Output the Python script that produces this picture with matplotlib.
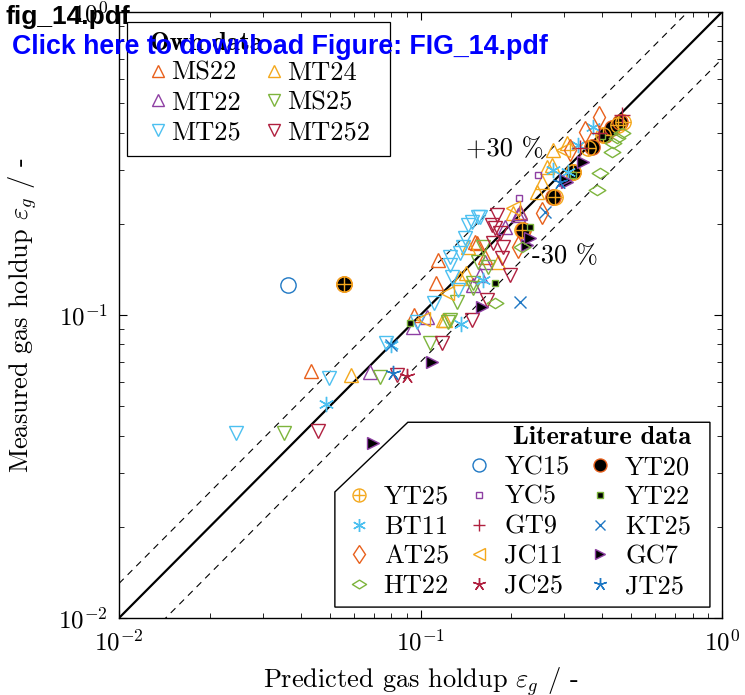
import matplotlib
matplotlib.use('Agg')
import matplotlib.pyplot as plt
from matplotlib.lines import Line2D
from matplotlib.path import Path
from matplotlib.patches import Polygon, Rectangle
from matplotlib.legend_handler import HandlerTuple

plt.rcParams['font.family'] = 'serif'
plt.rcParams['font.serif'] = ['cmr10']
plt.rcParams['mathtext.fontset'] = 'cm'
plt.rcParams['axes.unicode_minus'] = False
plt.rcParams['axes.formatter.use_mathtext'] = True

# ---------------- data (predicted, measured) ----------------
ms22_x = [0.0434, 0.0952, 0.1127, 0.1143, 0.1517, 0.1540, 0.1637, 0.2139]
ms22_y = [0.0653, 0.1000, 0.1274, 0.1520, 0.1739, 0.1725, 0.1556, 0.2191]

mt24_x = [0.0589, 0.1187, 0.1206, 0.1417, 0.1352, 0.1807, 0.2027, 0.2433, 0.2530, 0.2628, 0.2752, 0.2731, 0.3062, 0.1437]
mt24_y = [0.0633, 0.0963, 0.0963, 0.1378, 0.1325, 0.1497, 0.2174, 0.2545, 0.2748, 0.3082, 0.3505, 0.3130, 0.3698, 0.1673]

mt22_x = [0.0680, 0.1051, 0.0944, 0.1494, 0.1637, 0.1907, 0.2106, 0.2139, 0.1575]
mt22_y = [0.0648, 0.0985, 0.0913, 0.1256, 0.1497, 0.1955, 0.2141, 0.2174, 0.1357]

ms25_x = [0.0352, 0.0734, 0.1235, 0.1075, 0.1252, 0.1321, 0.1494, 0.1613, 0.1676, 0.1552, 0.1494]
ms25_y = [0.0408, 0.0624, 0.0948, 0.0808, 0.0963, 0.1104, 0.1228, 0.1673, 0.1440, 0.1497, 0.1274]

mt25_x = [0.0244, 0.0497, 0.0768, 0.0974, 0.1109, 0.1252, 0.1252, 0.1272, 0.1331, 0.1352, 0.1406, 0.1384, 0.1437, 0.1575, 0.1482, 0.1552]
mt25_y = [0.0408, 0.0619, 0.0808, 0.0948, 0.1096, 0.1556, 0.1463, 0.1336, 0.1209, 0.1597, 0.1795, 0.1673, 0.1985, 0.2109, 0.2031, 0.2109]

mt252_x = [0.0457, 0.0836, 0.1178, 0.1482, 0.1663, 0.1793, 0.1726, 0.1835, 0.1878, 0.1739, 0.1863, 0.1981, 0.1766]
mt252_y = [0.0414, 0.0633, 0.0808, 0.0963, 0.1121, 0.2141, 0.1985, 0.1865, 0.1673, 0.1725, 0.1544, 0.1357, 0.1940]

yc15_x = [0.0363]
yc15_y = [0.1256]

yt20_x = [0.0557, 0.2189, 0.2752, 0.3205, 0.3704, 0.4093, 0.4318, 0.4590]
yt20_y = [0.1264, 0.1911, 0.2451, 0.2966, 0.3587, 0.3927, 0.4145, 0.4339]

yt25_x = [0.0557, 0.2172, 0.2795, 0.3205, 0.3593, 0.4030, 0.4520, 0.4696]
yt25_y = [0.1264, 0.1911, 0.2451, 0.2966, 0.3560, 0.3927, 0.4241, 0.4339]

yc5_x = [0.2453, 0.2122]
yc5_y = [0.2899, 0.2433]

yt22_x = [0.0923, 0.1766, 0.2308, 0.3200, 0.4000]
yt22_y = [0.0941, 0.1274, 0.1955, 0.2900, 0.3900]

bt11_x = [0.0486, 0.1363, 0.1613, 0.3732, 0.3330, 0.3086, 0.2752, 0.0798]
bt11_y = [0.0509, 0.0934, 0.1305, 0.4177, 0.3642, 0.2966, 0.3000, 0.0796]

gt9_x = [0.4660, 0.3381, 0.3900]
gt9_y = [0.4580, 0.3560, 0.4000]

kt25_x = [0.2588, 0.2139, 0.0798]
kt25_y = [0.2191, 0.1104, 0.0796]

at25_x = [0.2530, 0.3512, 0.3133, 0.2106, 0.3900]
at25_y = [0.2174, 0.4017, 0.3505, 0.1673, 0.4500]

jc11_x = [0.1019, 0.1225, 0.2970, 0.2027]
jc11_y = [0.0970, 0.1182, 0.3505, 0.2250]

gc7_x = [0.0695, 0.1095, 0.1600, 0.2251, 0.2308, 0.3062, 0.3459, 0.3016]
gc7_y = [0.0378, 0.0700, 0.1063, 0.1699, 0.1795, 0.2748, 0.3202, 0.2790]

ht22_x = [0.4660, 0.4486, 0.4352, 0.4318, 0.3938, 0.3847, 0.2172, 0.1766]
ht22_y = [0.3987, 0.3847, 0.3698, 0.3451, 0.2943, 0.2584, 0.1673, 0.1096]

jc25_x = [0.0901]
jc25_y = [0.0628]

jt25_x = [0.0811, 0.2900]
jt25_y = [0.0643, 0.2750]

# ---------------- colours ----------------
c_ored = '#E8601C'
c_orange = '#F4A81C'
c_purple = '#8E3FA3'
c_green = '#7DB43C'
c_lblue = '#4CC0F0'
c_crimson = '#B0203F'
c_blue = '#1F78C4'

wide_diamond = Path([(-1, 0), (0, 0.62), (1, 0), (0, -0.62), (-1, 0)],
                    [Path.MOVETO, Path.LINETO, Path.LINETO, Path.LINETO, Path.CLOSEPOLY])

FS = 19

fig = plt.figure(figsize=(7.45, 6.95), dpi=100)
ax = fig.add_axes([119/745, 1-618/695, 603/745, 606/695])
ax.set_xscale('log')
ax.set_yscale('log')
ax.set_xlim(0.01, 1)
ax.set_ylim(0.01, 1)

ref = [0.01, 1.0]
ax.plot(ref, ref, color='black', lw=1.6, zorder=1)
ax.plot(ref, [1.3*v for v in ref], color='black', lw=0.8, ls=(0, (6, 5)), zorder=1)
ax.plot(ref, [0.7*v for v in ref], color='black', lw=0.8, ls=(0, (6, 5)), zorder=1)

def pts(x, y, **kw):
    kw.setdefault('linestyle', 'none')
    kw.setdefault('markeredgewidth', 1.0)
    return ax.plot(x, y, **kw)[0]

ms = 10
h_ms22 = pts(ms22_x, ms22_y, marker='^', ms=ms, mfc='none', mec=c_ored, label='MS22')
h_mt24 = pts(mt24_x, mt24_y, marker='^', ms=ms, mfc='none', mec=c_orange, label='MT24')
h_mt22 = pts(mt22_x, mt22_y, marker='^', ms=ms, mfc='none', mec=c_purple, label='MT22')
h_ms25 = pts(ms25_x, ms25_y, marker='v', ms=ms, mfc='none', mec=c_green, label='MS25')
h_mt25 = pts(mt25_x, mt25_y, marker='v', ms=ms, mfc='none', mec=c_lblue, label='MT25')
h_mt252 = pts(mt252_x, mt252_y, marker='v', ms=ms, mfc='none', mec=c_crimson, label='MT252')

h_yc15 = pts(yc15_x, yc15_y, marker='o', ms=11, mfc='none', mec=c_blue, label='YC15')
h_yt20 = pts(yt20_x, yt20_y, marker='o', ms=11, mfc='black', mec=c_ored, label='YT20')
h_yt25a = pts(yt25_x, yt25_y, marker='o', ms=11, mfc='none', mec=c_orange)
h_yt25b = pts(yt25_x, yt25_y, marker='+', ms=11, mec=c_orange)
h_yc5 = pts(yc5_x, yc5_y, marker='s', ms=5, mfc='none', mec=c_purple, label='YC5')
h_yt22 = pts(yt22_x, yt22_y, marker='s', ms=5, mfc='black', mec=c_green, label='YT22')
h_bt11 = pts(bt11_x, bt11_y, marker=(6, 2, 0), ms=11, mec=c_lblue, label='BT11')
h_gt9 = pts(gt9_x, gt9_y, marker='+', ms=11, mec=c_crimson, label='GT9')
h_kt25 = pts(kt25_x, kt25_y, marker='x', ms=8, mec=c_blue, label='KT25')
h_at25 = pts(at25_x, at25_y, marker='d', ms=11, mfc='none', mec=c_ored, label='AT25')
h_jc11 = pts(jc11_x, jc11_y, marker='<', ms=10, mfc='none', mec=c_orange, label='JC11')
h_gc7 = pts(gc7_x, gc7_y, marker='>', ms=9, mfc='black', mec=c_purple, label='GC7')
h_ht22 = pts(ht22_x, ht22_y, marker=wide_diamond, ms=12, mfc='none', mec=c_green, label='HT22')
h_jc25 = pts(jc25_x, jc25_y, marker=(5, 2, 0), ms=11, mec=c_crimson, label='JC25')
h_jt25 = pts(jt25_x, jt25_y, marker=(5, 2, 0), ms=11, mec=c_blue, label='JT25')

# ticks
ax.tick_params(which='both', direction='in', top=True, right=True)
ax.tick_params(which='major', length=6, width=0.8, labelsize=18, pad=8)
ax.tick_params(which='minor', length=3.5, width=0.6)
for s in ax.spines.values():
    s.set_linewidth(1.0)

ax.set_xlabel(r'Predicted gas holdup $\varepsilon_g$ / -', fontsize=FS, labelpad=7)
ax.set_ylabel(r'Measured gas holdup $\varepsilon_g$ / -', fontsize=FS, labelpad=14)

ax.text(0.1906, 0.3505, '+30 %', fontsize=FS, ha='center', va='center')
ax.text(0.301, 0.1567, '-30 %', fontsize=FS, ha='center', va='center')

# legend: own data (frame drawn as a separate rectangle)
rect = Rectangle((0.0133, 0.7624), 0.4361, 0.2211, transform=ax.transAxes,
                 facecolor='white', edgecolor='black', lw=0.9, zorder=5)
ax.add_patch(rect)
leg1 = ax.legend(handles=[h_ms22, h_mt22, h_mt25, h_mt24, h_ms25, h_mt252],
                 ncol=2, loc='upper left', bbox_to_anchor=(0.0514, 0.967),
                 borderaxespad=0, fontsize=FS, title='Own data',
                 title_fontproperties={'family': 'cmb10', 'size': FS},
                 alignment='left', frameon=False,
                 labelspacing=0.23, columnspacing=0.95,
                 handlelength=0.6, handletextpad=0.2, borderpad=0.0,
                 markerscale=0.8)
leg1.set_zorder(6)
ax.add_artist(leg1)

blank = Line2D([], [], linestyle='none', marker='none')
lit_handles = [blank, (h_yt25a, h_yt25b), h_bt11, h_at25, h_ht22,
               h_yc15, h_yc5, h_gt9, h_jc11, h_jc25,
               h_yt20, h_yt22, h_kt25, h_gc7, h_jt25]
lit_labels = ['', 'YT25', 'BT11', 'AT25', 'HT22',
              'YC15', 'YC5', 'GT9', 'JC11', 'JC25',
              'YT20', 'YT22', 'KT25', 'GC7', 'JT25']
leg2 = ax.legend(handles=lit_handles, labels=lit_labels, ncol=3,
                 loc='lower right', bbox_to_anchor=(0.953, 0.028),
                 borderaxespad=0, fontsize=FS, title='Literature data',
                 title_fontproperties={'family': 'cmb10', 'size': FS},
                 alignment='right', frameon=False,
                 labelspacing=0.23, columnspacing=0.85,
                 handlelength=0.6, handletextpad=0.65, borderpad=0.1,
                 markerscale=0.85,
                 handler_map={tuple: HandlerTuple(ndivide=1)})
leg2.set_zorder(6)

poly = Polygon([(0.358, 0.208), (0.479, 0.323), (0.980, 0.323), (0.980, 0.018), (0.358, 0.018)],
               closed=True, transform=ax.transAxes, facecolor='white',
               edgecolor='black', lw=1.0, zorder=5)
ax.add_patch(poly)

# header texts
fig.text(5/745, 1-17/695, 'fig_14.pdf', fontsize=19, fontweight='bold',
         family='Liberation Sans', color='black', va='center', ha='left', zorder=20)
fig.text(12/745, 1-47/695, 'Click here to download Figure: FIG_14.pdf', fontsize=19.3,
         fontweight='bold', family='Liberation Sans', color='#0000FF', va='center',
         ha='left', zorder=20)

fig.savefig('out.png', dpi=100)
